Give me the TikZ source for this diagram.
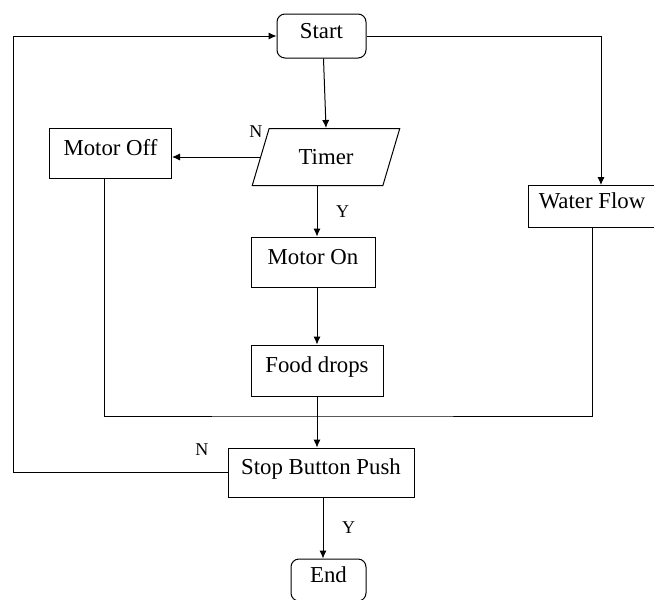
\documentclass[tikz,border=0pt]{standalone}
\usepackage{fontspec}
\setmainfont{Liberation Serif}
\usetikzlibrary{shapes.geometric,arrows.meta,positioning,calc}

\begin{document}
\begin{tikzpicture}[
    x=0.5pt, y=-0.5pt,
    font=\fontsize{11.4}{13}\selectfont,
    line width=0.5pt,
    process/.style={
      rectangle, draw, inner sep=0pt, fill=white,
      text height=8pt, text depth=6pt
    },
    terminal/.style={process, rounded corners=4pt},
    io/.style={
      trapezium, draw, trapezium left angle=62, trapezium right angle=118,
      trapezium stretches=true, inner sep=0pt, fill=white,
      minimum width=74pt, minimum height=28.5pt
    },
    flow/.style={-{Latex[length=4pt,width=3.6pt]}},
    answer/.style={font=\fontsize{9}{10}\selectfont}
  ]
  \useasboundingbox (0,0) rectangle (654,600);
  \node[terminal, minimum width=44.5pt, minimum height=22pt] (start) at (321.5,36) {Start};
  \node[io] (timer) at (326,157) {Timer};
  \node[process, minimum width=61pt, minimum height=25pt] (motoroff) at (110.5,153) {Motor Off};
  \node[process, minimum width=62pt, minimum height=25pt] (motoron) at (313,262) {Motor On};
  \node[process, minimum width=66pt, minimum height=25.5pt] (food) at (317,370.5) {Food drops};
  \node[process, minimum width=93pt, minimum height=24.5pt] (stop) at (321,472.5) {Stop Button Push};
  \node[terminal, minimum width=37.5pt, minimum height=21pt] (finish) at (328.5,580) {End};
  \node[process, minimum width=64pt, minimum height=21pt] (water) at (592,206.5) {Water Flow};
  \coordinate (merge) at (317,416);
  % main branch
  \draw[flow] ([xshift=1pt]start.south) -- (timer.north);
  \draw[flow] (timer.west) -- (timer.west -| motoroff.east) node[answer, pos=0.05, above=6pt] {N};
  \draw[flow] (timer.south -| food) -- (food |- motoron.north) node[answer, midway, right=6pt] {Y};
  \draw[flow] (motoron.south -| food) -- (food.north);
  \draw[flow] (food.south) -- (food |- stop.north);
  \draw[flow] ([xshift=1pt]stop.south) -- ([xshift=1pt]stop.south |- finish.north) node[answer, midway, right=6pt] {Y};
  % water branch
  \draw[flow] (start.east) -| ([xshift=4.5pt]water.north);
  \draw ([xshift=-3pt]motoroff.south) |- (merge) -| (water.south);
  % loop back
  \draw[flow] (stop.west) -- ++(-214,0) node[answer, pos=0.12, above=5pt] {N} |- (start.west);
\end{tikzpicture}
\end{document}
